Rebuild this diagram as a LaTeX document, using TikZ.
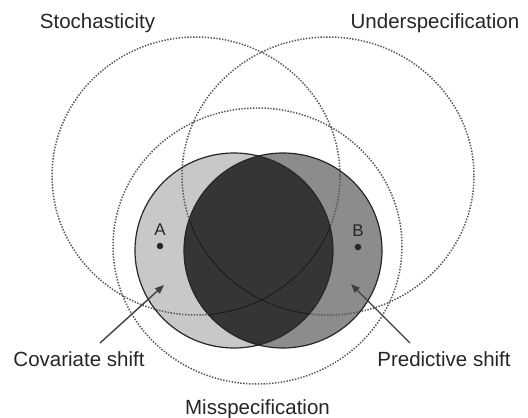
\documentclass[tikz,border=0pt]{standalone}
\usepackage{fontspec}
\setmainfont{Liberation Sans}
\usetikzlibrary{arrows.meta}
\definecolor{txt}{HTML}{262626}
\definecolor{lightfill}{HTML}{C8C8C8}
\definecolor{midfill}{HTML}{8C8C8C}
\definecolor{darkfill}{HTML}{353535}
\definecolor{dotc}{HTML}{555555}
\begin{document}
\begin{tikzpicture}[x=1pt,y=-1pt,
  lbl/.style={font=\fontsize{20.5}{24}\selectfont, text=txt, inner sep=0pt, anchor=base},
  small/.style={font=\fontsize{17}{20}\selectfont},
  dotring/.style={draw=dotc, line width=1.5pt, dash pattern=on 1.4pt off 1.5pt},
  ring/.style={draw=black!85, line width=1.2pt},
  inner/.style={draw=black!90, line width=1.1pt},
  pointer/.style={draw=black!75, line width=1.4pt, -{Triangle[length=9pt,width=7pt]}},
  spot/.style={circle, fill=black!85, inner sep=0pt, minimum size=6.5pt}]
\useasboundingbox (0,0) rectangle (528,418);
% filled circles
\fill[lightfill] (234,250.5) ellipse [x radius=99, y radius=97.5];
\fill[midfill] (283,250.5) ellipse [x radius=99, y radius=97.5];
\begin{scope}
  \clip (234,250.5) ellipse [x radius=99, y radius=97.5];
  \fill[darkfill] (283,250.5) ellipse [x radius=99, y radius=97.5];
\end{scope}
% dotted circles
\draw[dotring] (196,176) ellipse [x radius=144, y radius=139];
\draw[dotring] (328,176) ellipse [x radius=146, y radius=139];
\draw[dotring] (257.5,246) ellipse [x radius=144.5, y radius=138];
% their arcs inside the lens
\begin{scope}
  \clip (234,250.5) ellipse [x radius=99, y radius=97.5];
  \clip (283,250.5) ellipse [x radius=99, y radius=97.5];
  \draw[inner] (196,176) ellipse [x radius=144, y radius=139];
  \draw[inner] (328,176) ellipse [x radius=146, y radius=139];
\end{scope}
% outlines
\draw[ring] (234,250.5) ellipse [x radius=99, y radius=97.5];
\draw[ring] (283,250.5) ellipse [x radius=99, y radius=97.5];
% labels
\node[lbl] (stoch) at (97.5,28.5) {Stochasticity};
\node[lbl] (under) at (435,28.5) {Underspecification};
\node[lbl] (cov) at (79,366) {Covariate shift};
\node[lbl] (pred) at (444,366) {Predictive shift};
\node[lbl] (mis) at (257.5,414) {Misspecification};
\node[lbl, small] (A) at (160,235) {A};
\node[lbl, small] (B) at (358,236) {B};
\node[spot] (dotA) at (160,246) {};
\node[spot] (dotB) at (358,247) {};
% arrows
\coordinate (covfrom) at (100,343);
\coordinate (covto) at (164,285);
\coordinate (predfrom) at (410,343);
\coordinate (predto) at (351,284);
\draw[pointer] (covfrom) -- (covto);
\draw[pointer] (predfrom) -- (predto);
\end{tikzpicture}
\end{document}
